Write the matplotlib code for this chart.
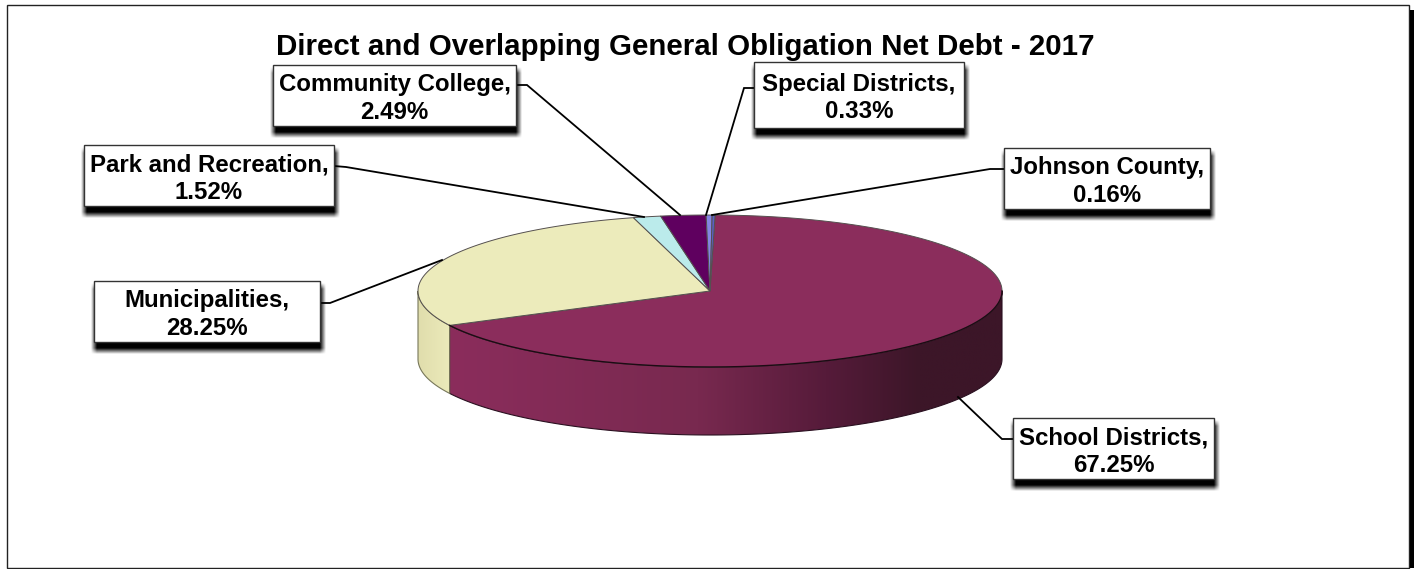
import numpy as np
import matplotlib
matplotlib.use("Agg")
import matplotlib.pyplot as plt
from matplotlib.colors import LinearSegmentedColormap
from matplotlib.patches import Polygon, Rectangle

plt.rcParams["font.family"] = ["Liberation Sans", "DejaVu Sans"]

# ---------------- data ---------------- #
title = "Direct and Overlapping General Obligation Net Debt - 2017"
categories = ["School Districts", "Municipalities", "Park and Recreation",
              "Community College", "Special Districts", "Johnson County"]
shares = [67.25, 28.25, 1.52, 2.49, 0.33, 0.16]
colors = ["#8B2D5C", "#ECEBBB", "#BBEBEB", "#5F005F", "#8484E4", "#5A60C4"]

# label box: left, top, right, bottom
boxes = [(1013, 418, 1214, 479), (94, 281, 320, 342), (84, 145, 334, 206),
         (273, 65, 516, 126), (754, 62, 964, 128), (1004, 148, 1210, 209)]
leaders = [[(1013, 439), (1002, 439), (958, 397)],
           [(320, 303), (330, 303), (442, 260)],
           [(334, 166), (346, 167), (644, 217)],
           [(516, 85), (527, 85), (680, 215)],
           [(754, 88), (744, 88), (706, 215)],
           [(1004, 169), (990, 169), (712, 215)]]

# pie geometry in pixels
cx, cy = 710, 291
rx, ry = 292, 76
depth = 68
start_angle = 1.0

W, H = 1419, 569
fig = plt.figure(figsize=(W / 100, H / 100), dpi=100)
ax = fig.add_axes([0, 0, 1, 1])


def rim(a0, a1, n=200):
    t = np.radians(np.linspace(a0, a1, n))
    return cx + rx * np.sin(t), cy - ry * np.cos(t)


def draw_side(a0, a1, stops, x0, x1, edge):
    # front wall between two clockwise angles, shaded left to right
    x, y = rim(a0, a1)
    pts = np.column_stack([np.r_[x, x[::-1]], np.r_[y, y[::-1] + depth]])
    patch = Polygon(pts, closed=True, fc="none", ec=edge, lw=0.8, zorder=3)
    ax.add_patch(patch)
    cmap = LinearSegmentedColormap.from_list("wall", stops)
    im = ax.imshow(np.linspace(0, 1, 256).reshape(1, -1), cmap=cmap, aspect="auto",
                   extent=(x0, x1, 450, 200), zorder=2)
    im.set_clip_path(patch)


def ramp(d, w=3.0):
    return np.clip(0.5 + d / (2 * w), 0, 1)


def draw_shadow(l, t, r, b):
    # blurred black rectangle sitting below and right of a label box
    L, T, R, B = l, t + 5, r + 3, b + 9
    xs = np.arange(L - 5, R + 6)
    ys = np.arange(T - 5, B + 6)
    gx, gy = np.meshgrid(xs + 0.5, ys + 0.5)
    alpha = ramp(gx - L) * ramp(R - gx) * ramp(gy - T) * ramp(B - gy)
    rgba = np.zeros(alpha.shape + (4,))
    rgba[..., 3] = alpha
    ax.imshow(rgba, aspect="auto", extent=(xs[0], xs[-1] + 1, ys[-1] + 1, ys[0]),
              interpolation="bilinear", zorder=7)


# ---------------- pie ---------------- #
edges = start_angle + np.r_[0, np.cumsum(shares)] * 3.6
split_x = rim(edges[1], edges[1], 1)[0][0]

draw_side(90, edges[1],
          [(0.0, "#8B2D5C"), (0.45, "#78294F"), (0.68, "#561B3A"),
           (0.85, "#3C1628"), (1.0, "#3C1628")],
          split_x, cx + rx, "#2A1020")
draw_side(edges[1], 270, [(0.0, "#ECEBBB"), (1.0, "#E0DDAC")], split_x + 1, cx - rx, "#77775A")

for i, c in enumerate(colors):
    x, y = rim(edges[i], edges[i + 1])
    pts = np.column_stack([np.r_[cx, x], np.r_[cy, y]])
    ax.add_patch(Polygon(pts, closed=True, fc=c, ec="#55504F", lw=0.7, zorder=4))

# dark line where the top meets the front wall
x, y = rim(90, edges[1])
ax.plot(x, y, color="#1E0A14", lw=1.0, zorder=5)

# ---------------- leader lines and labels ---------------- #
for pts in leaders:
    xs, ys = zip(*pts)
    ax.plot(xs, ys, color="black", lw=1.3, zorder=6, solid_joinstyle="miter")

for name, share, (l, t, r, b) in zip(categories, shares, boxes):
    draw_shadow(l, t, r, b)
    ax.add_patch(Rectangle((l, t), r - l, b - t, fc="white", ec="#333333", lw=1.0, zorder=8))
    ax.text((l + r) / 2, (t + b) / 2 + 3, f"{name},\n{share:.2f}%", ha="center", va="center",
            fontsize=17.3, fontweight="bold", linespacing=1.27, color="black", zorder=9)

# ---------------- title and frame ---------------- #
ax.text(685, 46.5, title, ha="center", va="center", fontsize=21.25, fontweight="bold", color="black", zorder=9)

ax.add_patch(Rectangle((7, 5), 1402, 563, fc="none", ec="#222222", lw=1.0, zorder=1))
ax.add_patch(Rectangle((1410, 10), 4, 558, fc="black", ec="none", zorder=1))

ax.set_xlim(0, W)
ax.set_ylim(H, 0)
ax.axis("off")

fig.savefig("out.png", dpi=100, facecolor="white")
